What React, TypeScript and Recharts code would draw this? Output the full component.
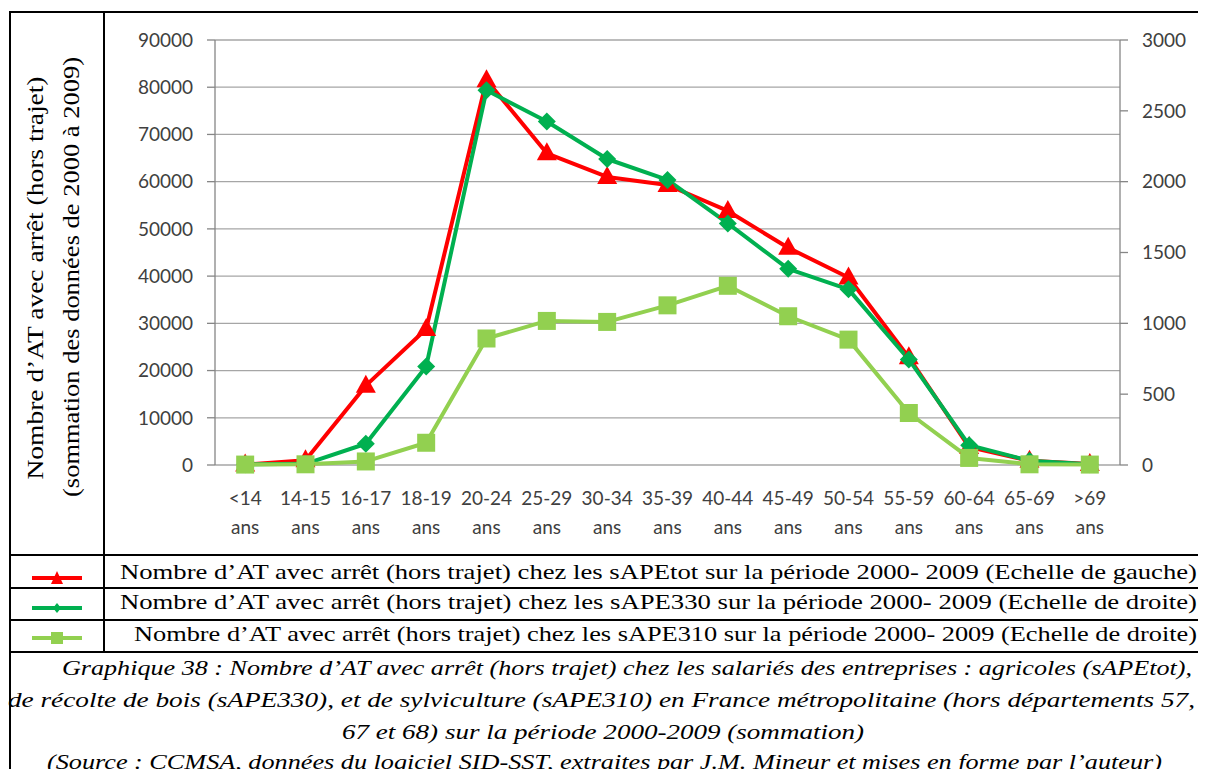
import React from 'react';
import { LineChart, Line, XAxis, YAxis, CartesianGrid } from 'recharts';

const categories = ['<14 ans', '14-15 ans', '16-17 ans', '18-19 ans', '20-24 ans', '25-29 ans', '30-34 ans', '35-39 ans', '40-44 ans', '45-49 ans', '50-54 ans', '55-59 ans', '60-64 ans', '65-69 ans', '>69 ans'];
const sAPEtot = [100, 1000, 16800, 28800, 81500, 66000, 61000, 59300, 53800, 46000, 39700, 22800, 3800, 900, 200];
const sAPE330 = [5, 8, 150, 695, 2645, 2425, 2160, 2012, 1705, 1385, 1240, 745, 140, 30, 5];
const sAPE310 = [3, 5, 25, 157, 893, 1017, 1010, 1127, 1265, 1050, 885, 367, 50, 5, 3];
const leftTicks = [0, 10000, 20000, 30000, 40000, 50000, 60000, 70000, 80000, 90000];
const rightTicks = [0, 500, 1000, 1500, 2000, 2500, 3000];
const categoryTicks = categories.map((_, i) => i);
const boundaryTicks = categories.map((_, i) => i - 0.5).concat([categories.length - 0.5]);

const legendLabels = [
  'Nombre d’AT avec arrêt (hors trajet) chez les sAPEtot sur la période 2000- 2009 (Echelle de gauche)',
  'Nombre d’AT avec arrêt (hors trajet) chez les sAPE330 sur la période 2000- 2009 (Echelle de droite)',
  'Nombre d’AT avec arrêt (hors trajet) chez les sAPE310 sur la période 2000- 2009 (Echelle de droite)',
];
const captionLines = [
  'Graphique 38 : Nombre d’AT avec arrêt (hors trajet) chez les salariés des entreprises : agricoles (sAPEtot),',
  'de récolte de bois (sAPE330), et de sylviculture (sAPE310) en France métropolitaine (hors départements 57,',
  '67 et 68) sur la période 2000-2009 (sommation)',
  '(Source : CCMSA, données du logiciel SID-SST, extraites par J.M. Mineur et mises en forme par l’auteur)',
];
const yTitleLines = ['Nombre  d’AT avec arrêt  (hors trajet)', '(sommation des données de 2000 à 2009)'];

const RED = '#FF0000';
const GREEN = '#00B050';
const LGREEN = '#92D050';
const AXIS = '#868686';
const TICKTXT = '#404040';
const SANS = 'Lato, "Open Sans", sans-serif';
const SERIF = 'Liberation Serif';

// text placement in container coordinates (page minus 8px body margin)
const legendBox = [
  { x: 112, w: 1077, base: 571 },
  { x: 112, w: 1077, base: 601 },
  { x: 126, w: 1063, base: 633 },
];
const captionBox = [
  { x: 54, w: 1130, base: 667 },
  { x: 0, w: 1187, base: 699 },
  { x: 334, w: 522, base: 731 },
  { x: 39, w: 1115, base: 761 },
];
const yTitleBox = [
  { x: 35, cy: 270, len: 403 },
  { x: 71, cy: 269, len: 440 },
];

const data = categories.map((c, i) => ({
  idx: i,
  cat: c,
  tot: sAPEtot[i],
  s330: sAPE330[i],
  s310: sAPE310[i],
}));

const TriangleDot = (props: any) => {
  const { cx, cy, index } = props;
  if (cx == null || cy == null) return <g key={`t-${index}`} />;
  return <polygon key={`t-${index}`} points={`${cx},${cy - 11} ${cx + 10},${cy + 7} ${cx - 10},${cy + 7}`} fill={RED} />;
};
const DiamondDot = (props: any) => {
  const { cx, cy, index } = props;
  if (cx == null || cy == null) return <g key={`d-${index}`} />;
  return <polygon key={`d-${index}`} points={`${cx},${cy - 9} ${cx + 9},${cy} ${cx},${cy + 9} ${cx - 9},${cy}`} fill={GREEN} />;
};
const SquareDot = (props: any) => {
  const { cx, cy, index } = props;
  if (cx == null || cy == null) return <g key={`s-${index}`} />;
  return <rect key={`s-${index}`} x={cx - 9} y={cy - 9} width={18} height={18} fill={LGREEN} />;
};

const XTick = (props: any) => {
  const { x, y, payload } = props;
  const label = categories[payload.value] || '';
  const parts = label.split(' ');
  return (
    <text x={x} y={y} textAnchor="middle" fill={TICKTXT} fontSize={19} fontFamily={SANS}>
      <tspan x={x} dy={40}>{parts[0]}</tspan>
      <tspan x={x} dy={29}>{parts[1]}</tspan>
    </text>
  );
};
const EmptyTick = () => <g />;

const LegendIcon = ({ kind, color }: { kind: string; color: string }) => (
  <g>
    <line x1={2} y1={12} x2={52} y2={12} stroke={color} strokeWidth={4} />
    {kind === 'tri' && <polygon points="27,5 33,18 21,18" fill={color} />}
    {kind === 'dia' && <polygon points="27,7 31,12 27,17 23,12" fill={color} />}
    {kind === 'sq' && <rect x={21} y={6} width={12} height={12} fill={color} />}
  </g>
);

export default function App() {
  const legendKinds = [
    { kind: 'tri', color: RED },
    { kind: 'dia', color: GREEN },
    { kind: 'sq', color: LGREEN },
  ];
  const iconLines = [570, 600, 630];
  const rowLines = [547, 580, 612, 644];
  return (
    <div style={{ position: 'relative', width: 1198, height: 761, overflow: 'hidden', background: '#fff' }}>
      <style>{'html,body{overflow:hidden;}'}</style>
      {/* chart */}
      <div style={{ position: 'absolute', left: 98, top: 6 }}>
        <LineChart width={1100} height={541} data={data} margin={{ top: 26, right: 0, bottom: 0, left: 0 }}>
          <CartesianGrid yAxisId="left" xAxisId="main" vertical={false} stroke="#a6a6a6" strokeWidth={1.3} />
          <XAxis
            xAxisId="b"
            type="number"
            dataKey="idx"
            domain={[-0.5, categories.length - 0.5]}
            ticks={boundaryTicks}
            interval={0}
            height={0}
            tick={EmptyTick}
            tickSize={8}
            axisLine={{ stroke: AXIS, strokeWidth: 1.3 }}
            tickLine={{ stroke: AXIS, strokeWidth: 1.3 }}
          />
          <XAxis
            xAxisId="main"
            type="number"
            dataKey="idx"
            domain={[-0.5, categories.length - 0.5]}
            ticks={categoryTicks}
            interval={0}
            height={90}
            tick={XTick}
            tickSize={0}
            tickMargin={0}
            axisLine={false}
            tickLine={false}
          />
          <YAxis
            yAxisId="left"
            domain={[0, 90000]}
            ticks={leftTicks}
            interval={0}
            width={109}
            tickSize={8}
            tickMargin={14}
            axisLine={{ stroke: AXIS, strokeWidth: 1.3 }}
            tickLine={{ stroke: AXIS, strokeWidth: 1.3 }}
            tick={{ fill: TICKTXT, fontSize: 19, fontFamily: SANS }}
          />
          <YAxis
            yAxisId="right"
            orientation="right"
            domain={[0, 3000]}
            ticks={rightTicks}
            interval={0}
            width={86}
            tickSize={8}
            tickMargin={14}
            axisLine={{ stroke: AXIS, strokeWidth: 1.3 }}
            tickLine={{ stroke: AXIS, strokeWidth: 1.3 }}
            tick={{ fill: TICKTXT, fontSize: 19, fontFamily: SANS, textAnchor: 'start' }}
          />
          <Line xAxisId="main" yAxisId="left" dataKey="tot" stroke={RED} strokeWidth={4} strokeLinejoin="round" dot={TriangleDot} activeDot={false} isAnimationActive={false} />
          <Line xAxisId="main" yAxisId="right" dataKey="s330" stroke={GREEN} strokeWidth={4} strokeLinejoin="round" dot={DiamondDot} activeDot={false} isAnimationActive={false} />
          <Line xAxisId="main" yAxisId="right" dataKey="s310" stroke={LGREEN} strokeWidth={4} strokeLinejoin="round" dot={SquareDot} activeDot={false} isAnimationActive={false} />
        </LineChart>
      </div>

      {/* table rules, icons and texts */}
      <svg width={1198} height={761} style={{ position: 'absolute', left: 0, top: 0, pointerEvents: 'none' }}>
        <line x1={1} y1={4} x2={1198} y2={4} stroke="#000" strokeWidth={2} />
        <line x1={2} y1={3} x2={2} y2={761} stroke="#000" strokeWidth={2} />
        <line x1={96} y1={3} x2={96} y2={644} stroke="#000" strokeWidth={2} />
        {rowLines.map((y) => (
          <line key={y} x1={1} y1={y} x2={1198} y2={y} stroke="#000" strokeWidth={2} />
        ))}
        {legendKinds.map((k, i) => (
          <g key={k.kind} transform={`translate(22,${iconLines[i] - 12})`}>
            <LegendIcon kind={k.kind} color={k.color} />
          </g>
        ))}
        {yTitleLines.map((t, i) => (
          <text
            key={t}
            transform={`translate(${yTitleBox[i].x},${yTitleBox[i].cy}) rotate(-90)`}
            textAnchor="middle"
            fontFamily={SERIF}
            fontSize={24}
            fill="#000"
            textLength={yTitleBox[i].len}
            lengthAdjust="spacingAndGlyphs"
          >
            {t}
          </text>
        ))}
        {legendLabels.map((t, i) => (
          <text
            key={t}
            x={legendBox[i].x}
            y={legendBox[i].base}
            fontFamily={SERIF}
            fontSize={21.5}
            fill="#000"
            textLength={legendBox[i].w}
            lengthAdjust="spacingAndGlyphs"
          >
            {t}
          </text>
        ))}
        {captionLines.map((t, i) => (
          <text
            key={t}
            x={captionBox[i].x}
            y={captionBox[i].base}
            fontFamily={SERIF}
            fontStyle="italic"
            fontSize={21.5}
            fill="#000"
            textLength={captionBox[i].w}
            lengthAdjust="spacingAndGlyphs"
          >
            {t}
          </text>
        ))}
      </svg>
    </div>
  );
}
